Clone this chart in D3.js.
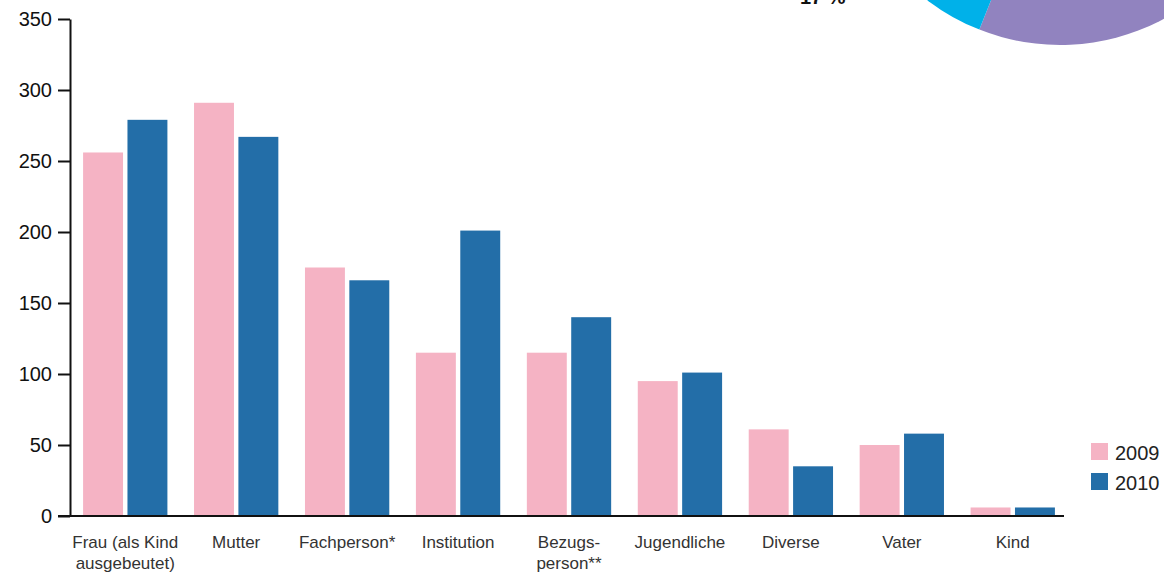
<!DOCTYPE html>
<html lang="en">
<head>
  <meta charset="utf-8">
  <title>Bars 2009 / 2010</title>
  <script src="https://d3js.org/d3.v7.min.js"></script>
  <style>
    body { margin: 0; background: #fff; }
    svg { display: block; }
  </style>
</head>
<body>
<script>
  // categories and values
  var categories = ["Frau (als Kind|ausgebeutet)", "Mutter", "Fachperson*", "Institution",
                    "Bezugs-|person**", "Jugendliche", "Diverse", "Vater", "Kind"];
  var years = ["2009", "2010"];
  var values2009 = [256, 291, 175, 115, 115, 95, 61, 50, 6];
  var values2010 = [279, 267, 166, 201, 140, 101, 35, 58, 6];
  var yTicks = [0, 50, 100, 150, 200, 250, 300, 350];
  var colours = ["#f5b3c4", "#236ea8"];

  // pie partly visible at the top right (only two slices show)
  var pieValues = [29, 27, 17, 27];
  var pieColours = ["#e6e6e6", "#9183bf", "#00b1e9", "#cccccc"];
  var pieLabel = "17 %";

  var w = 1164, h = 575;
  var mLeft = 70, mRight = 1064, mTop = 19, mBottom = 516;

  var svg = d3.select("body").append("svg")
    .attr("width", w)
    .attr("height", h);

  // pie fragment
  var arc = d3.arc().innerRadius(0).outerRadius(219);
  var pie = d3.pie().sort(null).value(function(d) { return d; });
  svg.append("g")
    .attr("transform", "translate(1060,-174)")
    .selectAll("path")
    .data(pie(pieValues))
    .join("path")
    .attr("d", arc)
    .attr("fill", function(d, i) { return pieColours[i]; });

  svg.append("text")
    .attr("x", 800).attr("y", 4)
    .attr("font-family", "Liberation Sans, sans-serif")
    .attr("font-size", 20)
    .attr("font-weight", "bold")
    .attr("fill", "#111")
    .text(pieLabel);

  // bands shifted a touch right of the axis line, as in the original
  var x = d3.scaleBand().domain(d3.range(categories.length)).range([mLeft + 2, mRight + 2]).paddingInner(0.24).paddingOuter(0.1);
  var xs = d3.scaleBand().domain(years).range([0, x.bandwidth()]).paddingInner(0.1);
  var y = d3.scaleLinear().domain([0, 350]).range([mBottom, mTop]);

  var groups = svg.append("g").selectAll("g")
    .data(categories.map(function(c, i) { return [values2009[i], values2010[i]]; }))
    .join("g")
    .attr("transform", function(d, i) { return "translate(" + x(i) + ",0)"; });

  groups.selectAll("rect")
    .data(function(d) { return d; })
    .join("rect")
    .attr("x", function(d, j) { return xs(years[j]); })
    .attr("y", function(d) { return y(d); })
    .attr("width", xs.bandwidth())
    .attr("height", function(d) { return mBottom - y(d); })
    .attr("fill", function(d, j) { return colours[j]; });

  // y axis
  var yAxis = svg.append("g")
    .attr("transform", "translate(" + mLeft + ",0)")
    .call(d3.axisLeft(y).tickValues(yTicks).tickSize(12).tickPadding(6).tickSizeOuter(0));
  yAxis.select(".domain").attr("stroke", "#111").attr("stroke-width", 2);
  yAxis.selectAll(".tick line").attr("stroke", "#111").attr("stroke-width", 2);
  yAxis.selectAll(".tick text")
    .attr("font-family", "Liberation Sans, sans-serif")
    .attr("font-size", 20)
    .attr("fill", "#111");

  // x axis line
  svg.append("line")
    .attr("x1", mLeft - 12).attr("x2", mRight)
    .attr("y1", mBottom).attr("y2", mBottom)
    .attr("stroke", "#111").attr("stroke-width", 2);

  // category labels
  var labels = svg.append("g").selectAll("text")
    .data(categories)
    .join("text")
    .attr("x", function(d, i) { return x(i) + x.bandwidth() / 2; })
    .attr("y", 548)
    .attr("text-anchor", "middle")
    .attr("font-family", "Liberation Sans, sans-serif")
    .attr("font-size", 17)
    .attr("fill", "#333");
  labels.each(function(d) {
    var t = d3.select(this);
    d.split("|").forEach(function(line, k) {
      t.append("tspan")
        .attr("x", t.attr("x"))
        .attr("dy", k === 0 ? 0 : 21)
        .text(line);
    });
  });

  // legend
  var legend = svg.append("g").selectAll("g")
    .data(years)
    .join("g")
    .attr("transform", function(d, i) { return "translate(1091," + (443 + i * 30) + ")"; });
  legend.append("rect")
    .attr("width", 17).attr("height", 17)
    .attr("fill", function(d, i) { return colours[i]; });
  legend.append("text")
    .attr("x", 24).attr("y", 17)
    .attr("font-family", "Liberation Sans, sans-serif")
    .attr("font-size", 20)
    .attr("fill", "#222")
    .text(function(d) { return d; });
</script>
</body>
</html>
